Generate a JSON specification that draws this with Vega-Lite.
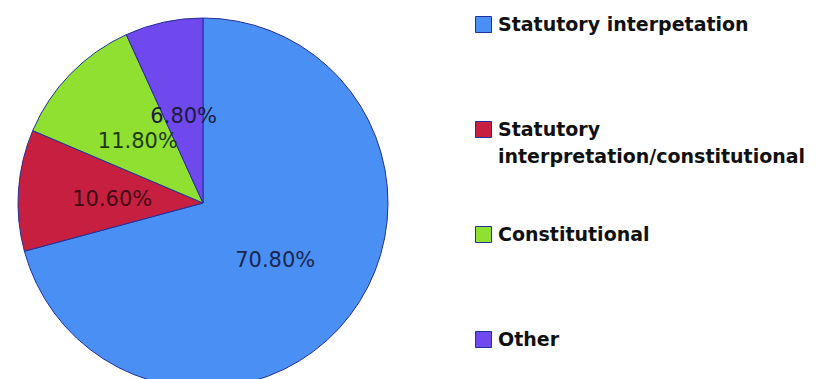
{
  "$schema": "https://vega.github.io/schema/vega-lite/v6.json",
  "width": 406,
  "height": 352,
  "autosize": {"type": "none"},
  "padding": {"left": 0, "top": 27, "right": 413, "bottom": 0},
  "background": "white",
  "config": {"style": {"guide-label": {"lineHeight": 27}}},
  "data": {
    "values": [
      {"category": "Statutory interpetation", "share": 0.708},
      {"category": "Statutory interpretation/constitutional", "share": 0.106},
      {"category": "Constitutional", "share": 0.118},
      {"category": "Other", "share": 0.068}
    ]
  },
  "transform": [
    {"window": [{"op": "row_number", "as": "slot"}]}
  ],
  "encoding": {
    "theta": {"field": "share", "type": "quantitative", "stack": true},
    "order": {"field": "slot", "type": "quantitative", "sort": "ascending"}
  },
  "layer": [
    {
      "mark": {"type": "arc", "outerRadius": 185, "stroke": "#22309a", "strokeWidth": 1},
      "encoding": {
        "color": {
          "field": "category",
          "type": "nominal",
          "sort": ["Statutory interpetation", "Statutory interpretation/constitutional", "Constitutional", "Other"],
          "scale": {
            "domain": ["Statutory interpetation", "Statutory interpretation/constitutional", "Constitutional", "Other"],
            "range": ["#4a8ff3", "#c61f40", "#8fe031", "#7049ee"]
          },
          "legend": {
            "title": null,
            "orient": "none",
            "legendX": 474,
            "legendY": -12,
            "gridAlign": "all",
            "symbolType": "square",
            "symbolSize": 256,
            "symbolStrokeColor": "#1f2f9c",
            "symbolStrokeWidth": 1,
            "labelFont": "DejaVu Sans",
            "labelFontSize": 19,
            "labelFontWeight": "bold",
            "labelColor": "#111111",
            "labelLimit": 400,
            "labelOffset": 5,
            "rowPadding": 57,
            "labelExpr": "datum.label == 'Statutory interpretation/constitutional' ? ['Statutory', 'interpretation/constitutional'] : datum.label"
          }
        }
      }
    },
    {
      "mark": {"type": "text", "radius": 91, "dy": 3, "font": "DejaVu Sans", "fontSize": 21},
      "encoding": {
        "text": {"field": "share", "type": "quantitative", "format": ".2%"},
        "color": {
          "field": "category",
          "type": "nominal",
          "sort": ["Statutory interpetation", "Statutory interpretation/constitutional", "Constitutional", "Other"],
          "scale": {
            "domain": ["Statutory interpetation", "Statutory interpretation/constitutional", "Constitutional", "Other"],
            "range": ["#1b2650", "#3f0a14", "#1d3a0c", "#1a1c3a"]
          },
          "legend": null
        }
      }
    }
  ],
  "resolve": {"scale": {"color": "independent"}}
}
